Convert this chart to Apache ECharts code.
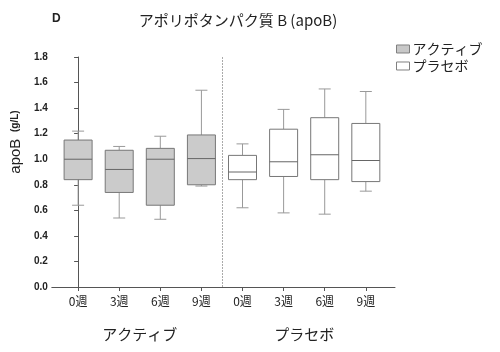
<!DOCTYPE html>
<html>
<head>
<meta charset="utf-8">
<script src="https://cdn.jsdelivr.net/npm/echarts@6/dist/echarts.min.js"></script>
<style>
  html, body { margin: 0; padding: 0; background: #fff; }
  #app { width: 500px; height: 352px; }
</style>
</head>
<body>
<div id="app"></div>
<script>
var weekLabels = ['0週', '3週', '6週', '9週', '0週', '3週', '6週', '9週'];
var groupNames = ['アクティブ', 'プラセボ'];
var groupCenters = [1.5, 5.5];

// [x, min, Q1, median, Q3, max]
var activeBoxes = [
  [0, 0.64, 0.84, 1.00, 1.15, 1.22],
  [1, 0.54, 0.74, 0.92, 1.07, 1.10],
  [2, 0.53, 0.64, 1.00, 1.085, 1.18],
  [3, 0.79, 0.80, 1.005, 1.19, 1.54]
];
var placeboBoxes = [
  [4, 0.62, 0.84, 0.90, 1.03, 1.12],
  [5, 0.58, 0.865, 0.98, 1.235, 1.39],
  [6, 0.57, 0.84, 1.035, 1.325, 1.55],
  [7, 0.75, 0.825, 0.99, 1.28, 1.53]
];

var jpFont = '"Noto Sans CJK JP", sans-serif';
var numFont = '"Liberation Sans", Arial, sans-serif';

function boxRender(fill) {
  return function (params, api) {
    var x = api.value(0);
    var pMin = api.coord([x, api.value(1)]);
    var pQ1 = api.coord([x, api.value(2)]);
    var pMed = api.coord([x, api.value(3)]);
    var pQ3 = api.coord([x, api.value(4)]);
    var pMax = api.coord([x, api.value(5)]);
    var half = 14, cap = 6;
    var cx = pMed[0];
    var line = { stroke: '#999', lineWidth: 1 };
    return {
      type: 'group',
      children: [
        { type: 'line', shape: { x1: cx, y1: pMax[1], x2: cx, y2: pQ3[1] }, style: line },
        { type: 'line', shape: { x1: cx - cap, y1: pMax[1], x2: cx + cap, y2: pMax[1] }, style: line },
        { type: 'line', shape: { x1: cx, y1: pQ1[1], x2: cx, y2: pMin[1] }, style: line },
        { type: 'line', shape: { x1: cx - cap, y1: pMin[1], x2: cx + cap, y2: pMin[1] }, style: line },
        { type: 'rect', shape: { x: cx - half, y: pQ3[1], width: half * 2, height: pQ1[1] - pQ3[1] },
          style: { fill: fill, stroke: '#777', lineWidth: 1 } },
        { type: 'line', shape: { x1: cx - half, y1: pMed[1], x2: cx + half, y2: pMed[1] },
          style: { stroke: '#666', lineWidth: 1 } }
      ]
    };
  };
}

var chart = echarts.init(document.getElementById('app'));
chart.setOption({
  backgroundColor: '#fff',
  animation: false,
  title: [
    { text: 'D', left: 47, top: 8, textStyle: { fontFamily: numFont, fontSize: 12, fontWeight: 'bold', color: '#222' } },
    { text: 'アポリポタンパク質 B (apoB)', left: 233, textAlign: 'center', top: 8,
      textStyle: { fontFamily: jpFont, fontSize: 15, fontWeight: 'normal', color: '#222' } }
  ],
  legend: {
    orient: 'vertical',
    left: 391,
    top: 37,
    itemWidth: 13,
    itemHeight: 8,
    itemGap: 3,
    textStyle: { fontFamily: jpFont, fontSize: 14, color: '#222', padding: [0, 0, 0, -2] },
    data: [
      { name: 'アクティブ', icon: 'rect', itemStyle: { color: '#c8c8c8', borderColor: '#808080', borderWidth: 1 } },
      { name: 'プラセボ', icon: 'rect', itemStyle: { color: '#fff', borderColor: '#808080', borderWidth: 1 } }
    ]
  },
  grid: { left: 51, right: 105, top: 57, bottom: 65 },
  xAxis: [
    {
      type: 'value', min: -0.64, max: 7.71,
      axisLine: { lineStyle: { color: '#555' } },
      axisTick: { show: true, length: 4, customValues: [0, 1, 2, 3, 4, 5, 6, 7], lineStyle: { color: '#555' } },
      axisLabel: {
        customValues: [0, 1, 2, 3, 4, 5, 6, 7],
        formatter: function (v) { return weekLabels[Math.round(v)]; },
        fontFamily: jpFont, fontSize: 12, color: '#222', margin: 8
      },
      splitLine: { show: false }
    },
    {
      type: 'value', min: -0.64, max: 7.71, position: 'bottom', offset: 32,
      axisLine: { show: false }, axisTick: { show: false },
      axisLabel: {
        customValues: groupCenters,
        formatter: function (v) { return groupNames[groupCenters.indexOf(v)]; },
        fontFamily: jpFont, fontSize: 15, color: '#222'
      },
      splitLine: { show: false }
    }
  ],
  yAxis: {
    type: 'value', min: 0, max: 1.8, interval: 0.2,
    name: '{a|apoB}  {b|(g/L)}',
    nameLocation: 'middle', nameGap: 27, nameRotate: 90,
    nameTextStyle: {
      padding: [0, 0, 0, 60],
      rich: {
        a: { fontFamily: numFont, fontSize: 15, color: '#222' },
        b: { fontFamily: numFont, fontSize: 10, fontWeight: 'bold', color: '#222' }
      }
    },
    axisLine: { show: true, lineStyle: { color: '#555' } },
    axisTick: { show: true, length: 4, lineStyle: { color: '#555' } },
    axisLabel: {
      formatter: function (v) { return v.toFixed(1); },
      fontFamily: numFont, fontSize: 10, fontWeight: 'bold', color: '#222', margin: 4
    },
    splitLine: { show: false }
  },
  series: [
    {
      name: 'アクティブ', type: 'custom', renderItem: boxRender('#cbcbcb'),
      itemStyle: { color: '#c8c8c8' },
      encode: { x: 0, y: [1, 2, 3, 4, 5] },
      data: activeBoxes,
      markLine: {
        silent: true, symbol: 'none', label: { show: false },
        lineStyle: { color: '#aaa', type: [2, 1], width: 1 },
        data: [{ xAxis: 3.5 }]
      }
    },
    {
      name: 'プラセボ', type: 'custom', renderItem: boxRender('#fff'),
      itemStyle: { color: '#fff' },
      encode: { x: 0, y: [1, 2, 3, 4, 5] },
      data: placeboBoxes
    }
  ]
});
</script>
</body>
</html>
